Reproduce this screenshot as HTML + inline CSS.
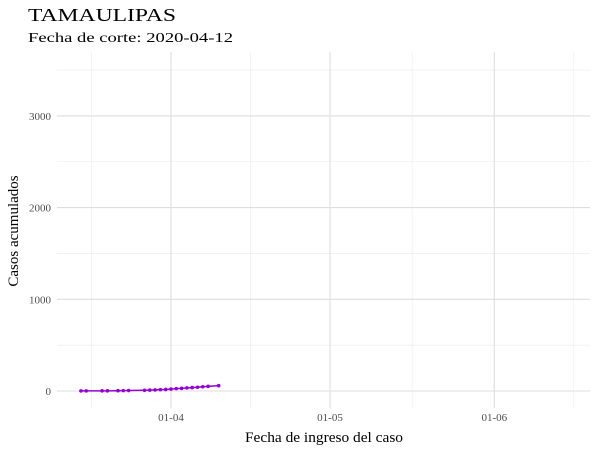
<!DOCTYPE html>
<html><head><meta charset="utf-8"><style>
body{margin:0;background:#fff;font-family:"Liberation Serif",serif;}
</style></head><body>
<svg id="c" width="600" height="450" xmlns="http://www.w3.org/2000/svg"></svg>
<script>
const dayOffsets=[-17,-16,-13,-12,-10,-9,-8,-5,-4,-3,-2,-1,0,1,2,3,4,5,6,7,9];
const cases=[1,1,2,2,3,4,5,8,10,12,15,17,21,26,29,34,37,41,46,51,58];
const yTicks=[0,1000,2000,3000];
const xTicks=[0,30,61];
const xTickLabels=["01-04","01-05","01-06"];
const NS="http://www.w3.org/2000/svg";
const svg=document.getElementById('c');
const L=57,R=590,T=52,B=408;
const xs=d=>171+(d)*5.3;
const ys=v=>391-v*0.0917;
function el(t,a,txt){const e=document.createElementNS(NS,t);for(const k in a)e.setAttribute(k,a[k]);if(txt!=null)e.textContent=txt;svg.appendChild(e);return e;}
for(let i=0;i<yTicks.length;i++){const m=ys(yTicks[i]+500);if(m>T){const g=el('line',{x1:L,x2:R,y1:m,y2:m,stroke:'#ebebeb','stroke-width':0.6});}}
[-15,15,45.5,76].forEach(d=>{const g=el('line',{x1:xs(d),x2:xs(d),y1:T,y2:B,stroke:'#ebebeb','stroke-width':0.6});});
yTicks.forEach(v=>{const y=ys(v);const g=el('line',{x1:L,x2:R,y1:y,y2:y,stroke:'#dedede','stroke-width':1.1});
const t=el('text',{x:51,y:y+4,'text-anchor':'end','font-size':11,fill:'#4d4d4d'},v);});
xTicks.forEach((d,i)=>{const x=xs(d);const g=el('line',{x1:x,x2:x,y1:T,y2:B,stroke:'#dedede','stroke-width':1.1});
const t=el('text',{x:x,y:421,'text-anchor':'middle','font-size':11,fill:'#4d4d4d'},xTickLabels[i]);});
const pts=dayOffsets.map((d,i)=>xs(d)+','+ys(cases[i])).join(' ');
const pl=el('polyline',{points:pts,fill:'none',stroke:'#9400d3','stroke-width':1.5});

dayOffsets.forEach((d,i)=>{const c=el('circle',{cx:xs(d),cy:ys(cases[i]),r:1.8,fill:'#9400d3'});});
let t;
t=el('text',{x:28,y:21,'font-size':18,fill:'#000',textLength:148,lengthAdjust:'spacingAndGlyphs'},'TAMAULIPAS');
t=el('text',{x:28,y:42,'font-size':14,fill:'#000',textLength:205,lengthAdjust:'spacingAndGlyphs'},'Fecha de corte: 2020-04-12');
t=el('text',{x:245,y:442,'font-size':15,fill:'#000',textLength:158,lengthAdjust:'spacingAndGlyphs'},'Fecha de ingreso del caso');
t=el('text',{x:18,y:231,'text-anchor':'middle','font-size':15,fill:'#000',transform:'rotate(-90 18 231)'},'Casos acumulados');
</script>
</body></html>
